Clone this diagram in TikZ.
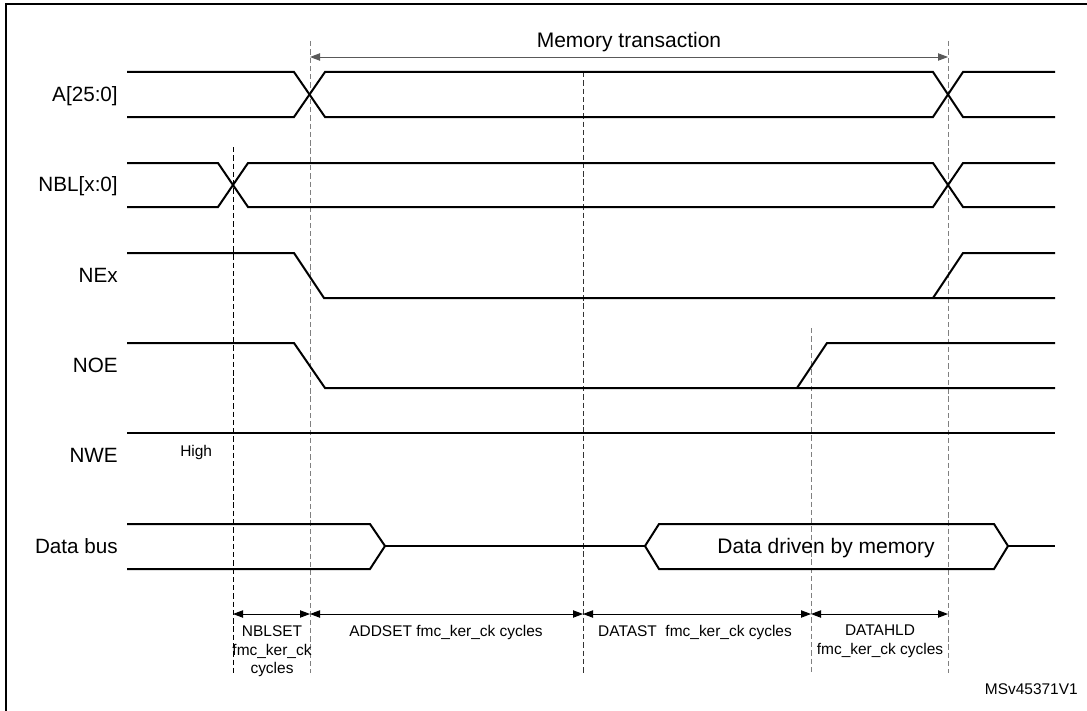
\documentclass[tikz,border=0pt]{standalone}
\usepackage{fontspec}
\setmainfont{Liberation Sans}
\usetikzlibrary{arrows.meta}
\begin{document}
\begin{tikzpicture}[x=0.75pt,y=-0.75pt,
  sig/.style={line width=1.5pt, line join=miter},
  tline/.style={line width=0.6pt, dash pattern=on 4pt off 2.2pt},
  dimarrow/.style={{Triangle[length=7.5pt,width=5.5pt]}-{Triangle[length=7.5pt,width=5.5pt]}, line width=0.7pt},
  lbl/.style={anchor=base east, inner sep=0pt, font=\fontsize{15.5}{18}\selectfont},
  small/.style={inner sep=0pt, font=\fontsize{11.6}{14.2}\selectfont, align=center}]
\useasboundingbox (0,0) rectangle (1087,710);
% frame
\draw[line width=2pt] (6,715) -- (6,4) -- (1092,4);
% time marks
\draw[tline] (233,147) -- (233,673);
\draw[tline, gray] (310,41) -- (310,673);
\draw[tline, black!80] (583,72) -- (583,673);
\draw[tline, gray] (811,328) -- (811,673);
\draw[tline, gray] (948,41) -- (948,673);
% memory transaction
\coordinate (mt0) at (310,57);
\coordinate (mt1) at (948,57);
\draw[dimarrow, gray!70!black] (mt0) -- node[above=3.5pt, inner sep=0pt, text=black, font=\fontsize{15.75}{18}\selectfont] (mtlbl) {Memory transaction} (mt1);
% signal names
\node[lbl] (sA) at (118,101) {A[25:0]};
\node[lbl] (sNBL) at (118,191) {NBL[x:0]};
\node[lbl] (sNE) at (118,282) {NEx};
\node[lbl] (sNOE) at (118,372) {NOE};
\node[lbl] (sNWE) at (118,462) {NWE};
\node[lbl] (sData) at (118,553) {Data bus};
% A[25:0]
\draw[sig] (127,72) -- (294,72) -- (325,117) -- (933,117) -- (963,72) -- (1055,72);
\draw[sig] (127,117) -- (294,117) -- (325,72) -- (933,72) -- (963,117) -- (1055,117);
% NBL[x:0]
\draw[sig] (127,163) -- (218,163) -- (248,207) -- (933,207) -- (963,163) -- (1055,163);
\draw[sig] (127,207) -- (218,207) -- (248,163) -- (933,163) -- (963,207) -- (1055,207);
% NEx
\draw[sig] (127,253) -- (294,253) -- (324,298) -- (1055,298);
\draw[sig] (933,298) -- (963,253) -- (1055,253);
% NOE
\draw[sig] (127,343) -- (294,343) -- (325,388) -- (1055,388);
\draw[sig] (797,388) -- (827,343) -- (1055,343);
% NWE
\draw[sig] (127,433) -- (1055,433);
\node[small, anchor=base west] (high) at (180,456) {High};
% data bus
\draw[sig] (127,524) -- (370,524) -- (385,546) -- (370,569) -- (127,569);
\draw[sig] (385,546) -- (645,546);
\draw[sig] (645,546) -- (659,524) -- (994,524) -- (1008,546) -- (994,569) -- (659,569) -- cycle;
\draw[sig] (1008,546) -- (1055,546);
\node[anchor=base, inner sep=0pt, font=\fontsize{15.75}{18}\selectfont] (drv) at (826,553) {Data driven by memory};
% cycle counts
\coordinate (c0) at (233,614);
\coordinate (c1) at (310,614);
\coordinate (c2) at (583,614);
\coordinate (c3) at (811,614);
\coordinate (c4) at (948,614);
\draw[dimarrow] (c0) -- (c1);
\draw[dimarrow] (c1) -- (c2);
\draw[dimarrow] (c2) -- (c3);
\draw[dimarrow] (c3) -- (c4);
\node[small, anchor=north] (nblset) at (272,625) {NBLSET\\fmc\_ker\_ck\\cycles};
\node[small, anchor=north] (addset) at (446,625) {ADDSET fmc\_ker\_ck cycles};
\node[small, anchor=north] (datast) at (695,625) {DATAST\ \ fmc\_ker\_ck cycles};
\node[small, anchor=north] (datahld) at (880,625) {DATAHLD\\fmc\_ker\_ck cycles};
\node[small, anchor=base east] (ref) at (1078,694) {MSv45371V1};
\end{tikzpicture}
\end{document}
